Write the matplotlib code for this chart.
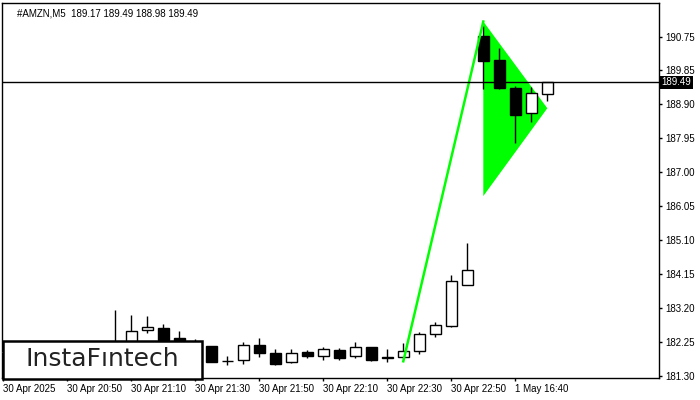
import matplotlib.pyplot as plt
from matplotlib.patches import Rectangle, Polygon
from matplotlib.transforms import blended_transform_factory
import numpy as np

plt.rcParams['font.family'] = ['Liberation Sans Narrow', 'Liberation Sans', 'DejaVu Sans']

# M5 candles, 30 Apr 20:30 .. 22:55, then 1 May 16:30 .. 16:50
times = ["20:30", "20:35", "20:40", "20:45", "20:50", "20:55", "21:00", "21:05",
         "21:10", "21:15", "21:20", "21:25", "21:30", "21:35", "21:40", "21:45",
         "21:50", "21:55", "22:00", "22:05", "22:10", "22:15", "22:20", "22:25",
         "22:30", "22:35", "22:40", "22:45", "22:50", "22:55",
         "16:30", "16:35", "16:40", "16:45", "16:50"]
opens = [181.95, 182.00, 181.95, 182.00, 182.10, 182.05, 182.15, 182.20,
         182.25, 182.57, 182.63, 182.35, 182.20, 182.14, 181.73, 181.75,
         182.16, 181.93, 181.68, 181.96, 181.86, 182.02, 181.85, 182.11,
         181.82, 181.82, 181.99, 182.46, 182.69, 183.83,
         190.79, 190.12, 189.33, 188.63, 189.17]
highs = [182.10, 182.15, 182.05, 182.20, 182.25, 182.20, 182.25, 183.14,
         183.00, 182.97, 182.75, 182.56, 182.32, 182.14, 181.87, 182.25,
         182.36, 182.06, 182.06, 182.02, 182.12, 182.08, 182.25, 182.12,
         182.05, 182.21, 182.53, 182.81, 184.11, 185.01,
         191.07, 190.44, 189.39, 189.35, 189.49]
lows = [181.85, 181.90, 181.85, 181.95, 182.00, 181.95, 182.05, 182.10,
        182.15, 182.49, 182.20, 182.10, 182.05, 181.70, 181.61, 181.64,
        181.84, 181.61, 181.66, 181.80, 181.76, 181.75, 181.81, 181.73,
        181.70, 181.80, 181.92, 182.40, 182.67, 183.83,
        189.30, 189.31, 187.81, 188.40, 188.98]
closes = [182.00, 181.95, 182.00, 182.10, 182.05, 182.15, 182.20, 182.25,
          182.56, 182.66, 182.30, 182.20, 182.15, 181.70, 181.73, 182.16,
          181.93, 181.63, 181.93, 181.87, 182.05, 181.81, 182.10, 181.75,
          181.80, 181.99, 182.46, 182.71, 183.94, 184.25,
          190.10, 189.34, 188.59, 189.19, 189.49]

# bullish pennant
pole_x = [25, 30]
pole_y = [181.71, 191.19]
flag_x = [30, 34, 30]
flag_y = [191.19, 188.77, 186.32]

xtick_idx = [0, 4, 8, 12, 16, 20, 24, 28, 32]
xtick_labels = ["30 Apr 2025", "30 Apr 20:50", "30 Apr 21:10", "30 Apr 21:30",
                "30 Apr 21:50", "30 Apr 22:10", "30 Apr 22:30", "30 Apr 22:50",
                "1 May 16:40"]
yticks = [190.75, 189.85, 188.90, 187.95, 187.00, 186.05, 185.10, 184.15,
          183.20, 182.25, 181.30]

last_price = 189.49

fig = plt.figure(figsize=(7, 4), dpi=100)
ax = fig.add_axes([2/700, 22/400, 657/700, 375/400])
ax.set_xlim(-0.08, 40.98)
ax.set_ylim(181.244, 191.707)

# pennant area (under the candles)
ax.add_patch(Polygon(np.column_stack([flag_x, flag_y]), closed=True,
                     facecolor="#00ff00", edgecolor="none", zorder=1))

x = np.arange(len(times))
o = np.array(opens)
c = np.array(closes)
up = c >= o
ax.vlines(x, lows, highs, color="black", lw=1, zorder=2)
bottoms = np.minimum(o, c)
heights = np.abs(c - o)
ax.bar(x, heights, bottom=bottoms, width=0.66,
       color=np.where(up, "white", "black"), edgecolor="black", lw=1, zorder=3)

ax.plot(pole_x, pole_y, color="#00ff00", lw=1.8, zorder=4)

ax.axhline(last_price, color="black", lw=1, zorder=5)

ax.yaxis.tick_right()
ax.set_yticks(yticks)
ax.set_yticklabels([f"{v:.2f}" for v in yticks])
ax.set_xticks(xtick_idx)
ax.set_xticklabels(xtick_labels, ha="left")
ax.tick_params(axis="both", direction="out", length=2.5, width=1, labelsize=7,
               color="black")
ax.tick_params(axis="y", pad=2)
ax.tick_params(axis="x", pad=2)
for s in ax.spines.values():
    s.set_linewidth(1)
    s.set_color("black")

tr = blended_transform_factory(ax.transAxes, ax.transData)
ax.text(1.004, last_price, f"{last_price:.2f}", transform=tr, color="white",
        fontsize=7, va="center", ha="left", zorder=10,
        bbox=dict(boxstyle="square,pad=0.15", facecolor="black", edgecolor="none"))

ax.text(15.3/657, 1 - 10/375, "#AMZN,M5  189.17 189.49 188.98 189.49",
        transform=ax.transAxes, fontsize=7, va="center", ha="left")

# logo box
fig.add_artist(Rectangle((3/700, 21/400), 199/700, 38.5/400,
                         transform=fig.transFigure, facecolor="white",
                         edgecolor="black", lw=1.8, zorder=20))
fig.text(102/700, 1 - 359/400, "InstaFıntech", fontsize=18,
         family=["DejaVu Sans"], color="#222222",
         ha="center", va="center", zorder=21)

fig.savefig("out.png", dpi=100)
